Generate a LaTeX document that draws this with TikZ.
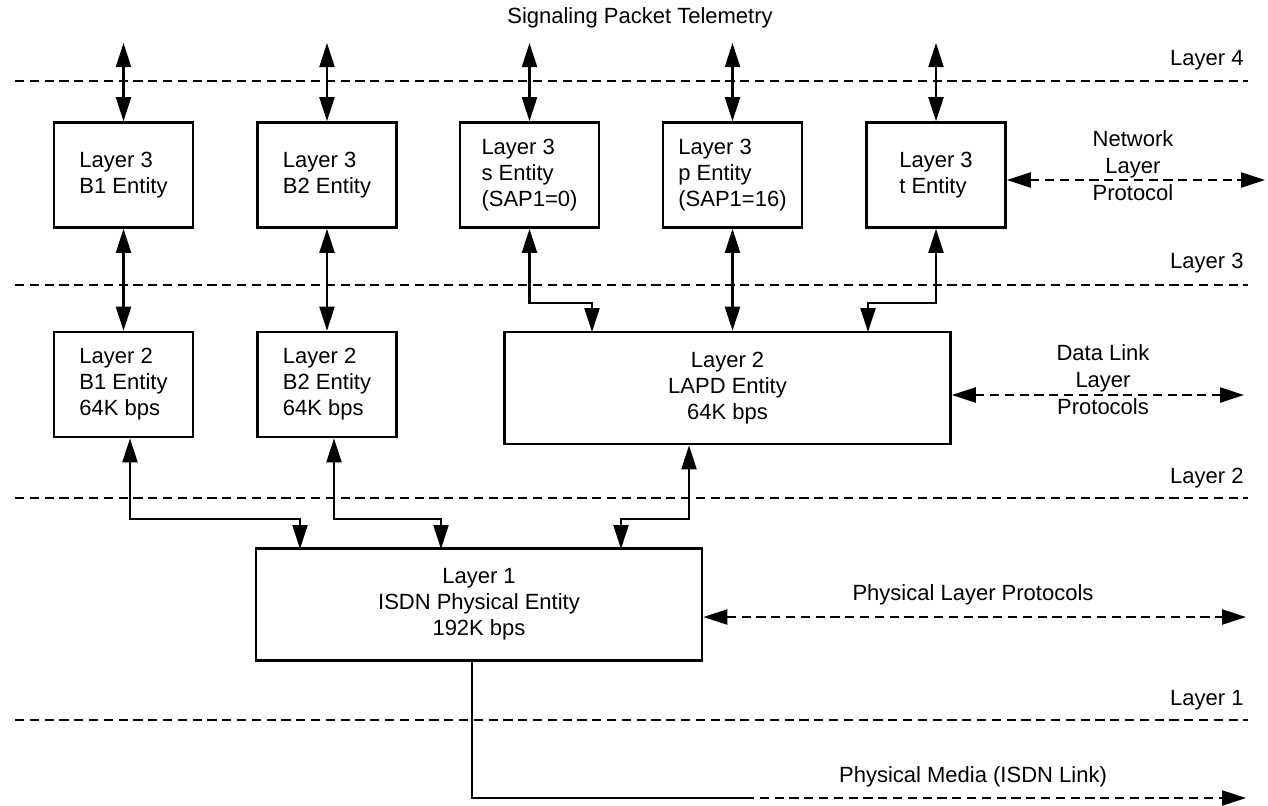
\documentclass[tikz,border=0pt]{standalone}
\usepackage{fontspec}
\setmainfont{Liberation Sans}
\usetikzlibrary{arrows.meta}

\begin{document}
\begin{tikzpicture}[x=0.5pt, y=-0.5pt]
                \tikzstyle{entity} = [draw, line width=1.3pt, minimum width=69.5pt, minimum height=52.5pt, inner sep=0pt, align=left, font=\fontsize{11}{13}\selectfont]
                \tikzstyle{wide} = [entity, align=center, minimum width=223pt, minimum height=56pt]
                \tikzstyle{note} = [align=center, inner sep=0pt, font=\fontsize{11}{13.5}\selectfont]
                \tikzstyle{boundary} = [line width=1.2pt, dash pattern=on 4.6pt off 2.8pt]
                \tikzstyle{wire} = [line width=1.1pt]
                \tikzstyle{dbl} = [wire, {Triangle[length=12pt, width=7.5pt]}-{Triangle[length=12pt, width=7.5pt]}]
                \tikzstyle{proto} = [dbl, dash pattern=on 4.6pt off 2.8pt]
                \useasboundingbox (0,0) rectangle (1268,805);
                % layer boundaries
                \foreach \n/\y/\ly in {4/81/60, 3/285/263, 2/498/478, 1/720/700} {
                    \draw[boundary] (15,\y) -- (1248,\y);
                    \node[note, anchor=east] (lay\n) at (1244,\ly) {Layer \n};
                }
                % entities
                \node[entity] (b13) at (123.5,175) {Layer 3\\B1 Entity};
                \node[entity] (b23) at (327,175) {Layer 3\\B2 Entity};
                \node[entity] (s3) at (529.5,175) {Layer 3\\s Entity\\(SAP1=0)};
                \node[entity] (p3) at (732.5,175) {Layer 3\\p Entity\\(SAP1=16)};
                \node[entity] (t3) at (936,175) {Layer 3\\t Entity};
                \node[entity] (b12) at (123.5,384.5) {Layer 2\\B1 Entity\\64K bps};
                \node[entity] (b22) at (327,384.5) {Layer 2\\B2 Entity\\64K bps};
                \node[wide] (lapd) at (727.5,388) {Layer 2\\LAPD Entity\\64K bps};
                \node[wide] (l1) at (479,604.5) {Layer 1\\ISDN Physical Entity\\192K bps};
                % texts
                \node[note] (sigtxt) at (640,18) {Signaling Packet Telemetry};
                \node[note] (nettxt) at (1133,166) {Network\\Layer\\Protocol};
                \node[note] (dltxt) at (1103,380) {Data Link\\Layer\\Protocols};
                \node[note] (phytxt) at (973,595) {Physical Layer Protocols};
                \node[note] (medtxt) at (973,777) {Physical Media (ISDN Link)};
                % end points and bends
                \coordinate (sig) at (0,43);
                \coordinate (jog3) at (0,303);
                \coordinate (jog2) at (0,519);
                \coordinate (lapd-s) at (592,332);
                \coordinate (lapd-t) at (868,332);
                \coordinate (l1-b1) at (300,549);
                \coordinate (l1-b2) at (441,549);
                \coordinate (l1-lapd) at (621,549);
                \coordinate (net-end) at (1265,180);
                \coordinate (dl-end) at (1244,395);
                \coordinate (phy-end) at (1246,617);
                \coordinate (med-bend) at (472,798);
                \coordinate (med-mid) at (745,798);
                \coordinate (med-end) at (1246,798);
                % layer 4 <-> layer 3
                \foreach \n in {b13, b23, s3, p3, t3}
                    \draw[dbl] (\n.north |- sig) -- (\n.north);
                % layer 3 <-> layer 2
                \draw[dbl] (b13.south) -- (b12.north);
                \draw[dbl] (b23.south) -- (b22.north);
                \draw[dbl] (s3.south) |- (jog3 -| lapd-s) -- (lapd-s);
                \draw[dbl] (p3.south) -- (p3.south |- lapd.north);
                \draw[dbl] (t3.south) |- (jog3 -| lapd-t) -- (lapd-t);
                % layer 2 <-> layer 1
                \draw[dbl] ([xshift=3.25pt]b12.south) |- (jog2 -| l1-b1) -- (l1-b1);
                \draw[dbl] ([xshift=3.5pt]b22.south) |- (jog2 -| l1-b2) -- (l1-b2);
                \draw[dbl] ([xshift=-19.25pt]lapd.south) |- (jog2 -| l1-lapd) -- (l1-lapd);
                % peer protocols
                \draw[proto] (t3.east |- net-end) -- (net-end);
                \draw[proto] (lapd.east |- dl-end) -- (dl-end);
                \draw[proto] (l1.east |- phy-end) -- (phy-end);
                % physical media
                \draw[wire] (l1.south -| med-bend) -- (med-bend) -- (med-mid);
                \draw[wire, dash pattern=on 4.6pt off 2.8pt, -{Triangle[length=12pt, width=7.5pt]}] (med-mid) -- (med-end);
            \end{tikzpicture}
\end{document}
